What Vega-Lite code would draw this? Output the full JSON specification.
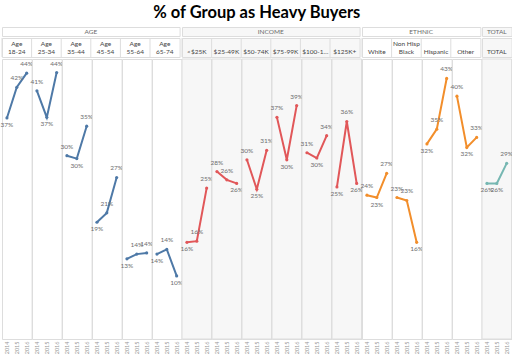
{
  "$schema": "https://vega.github.io/schema/vega-lite/v6.json",
  "autosize": {"type": "pad"},
  "padding": {"left": 0, "right": 0, "top": 5, "bottom": 0},
  "background": "white",
  "title": {"text": "% of Group as Heavy Buyers", "font": "Lato", "fontSize": 16.5, "fontWeight": "bold", "color": "#000000", "anchor": "middle", "offset": 5},
  "data": {"values": [
    {"group": "AGE", "sub": "Age 18-24", "year": 2014, "v": 0.367},
    {"group": "AGE", "sub": "Age 18-24", "year": 2015, "v": 0.419},
    {"group": "AGE", "sub": "Age 18-24", "year": 2016, "v": 0.443},
    {"group": "AGE", "sub": "Age 25-34", "year": 2014, "v": 0.413},
    {"group": "AGE", "sub": "Age 25-34", "year": 2015, "v": 0.368},
    {"group": "AGE", "sub": "Age 25-34", "year": 2016, "v": 0.444},
    {"group": "AGE", "sub": "Age 35-44", "year": 2014, "v": 0.303},
    {"group": "AGE", "sub": "Age 35-44", "year": 2015, "v": 0.298},
    {"group": "AGE", "sub": "Age 35-44", "year": 2016, "v": 0.353},
    {"group": "AGE", "sub": "Age 45-54", "year": 2014, "v": 0.190},
    {"group": "AGE", "sub": "Age 45-54", "year": 2015, "v": 0.206},
    {"group": "AGE", "sub": "Age 45-54", "year": 2016, "v": 0.266},
    {"group": "AGE", "sub": "Age 55-64", "year": 2014, "v": 0.128},
    {"group": "AGE", "sub": "Age 55-64", "year": 2015, "v": 0.136},
    {"group": "AGE", "sub": "Age 55-64", "year": 2016, "v": 0.138},
    {"group": "AGE", "sub": "Age 65-74", "year": 2014, "v": 0.136},
    {"group": "AGE", "sub": "Age 65-74", "year": 2015, "v": 0.144},
    {"group": "AGE", "sub": "Age 65-74", "year": 2016, "v": 0.099},
    {"group": "INCOME", "sub": "<$25K", "year": 2014, "v": 0.156},
    {"group": "INCOME", "sub": "<$25K", "year": 2015, "v": 0.158},
    {"group": "INCOME", "sub": "<$25K", "year": 2016, "v": 0.248},
    {"group": "INCOME", "sub": "$25-49K", "year": 2014, "v": 0.276},
    {"group": "INCOME", "sub": "$25-49K", "year": 2015, "v": 0.262},
    {"group": "INCOME", "sub": "$25-49K", "year": 2016, "v": 0.256},
    {"group": "INCOME", "sub": "$50-74K", "year": 2014, "v": 0.296},
    {"group": "INCOME", "sub": "$50-74K", "year": 2015, "v": 0.246},
    {"group": "INCOME", "sub": "$50-74K", "year": 2016, "v": 0.312},
    {"group": "INCOME", "sub": "$75-99K", "year": 2014, "v": 0.368},
    {"group": "INCOME", "sub": "$75-99K", "year": 2015, "v": 0.296},
    {"group": "INCOME", "sub": "$75-99K", "year": 2016, "v": 0.388},
    {"group": "INCOME", "sub": "$100-124K", "year": 2014, "v": 0.308},
    {"group": "INCOME", "sub": "$100-124K", "year": 2015, "v": 0.299},
    {"group": "INCOME", "sub": "$100-124K", "year": 2016, "v": 0.337},
    {"group": "INCOME", "sub": "$125K+", "year": 2014, "v": 0.250},
    {"group": "INCOME", "sub": "$125K+", "year": 2015, "v": 0.361},
    {"group": "INCOME", "sub": "$125K+", "year": 2016, "v": 0.256},
    {"group": "ETHNIC", "sub": "White", "year": 2014, "v": 0.236},
    {"group": "ETHNIC", "sub": "White", "year": 2015, "v": 0.232},
    {"group": "ETHNIC", "sub": "White", "year": 2016, "v": 0.273},
    {"group": "ETHNIC", "sub": "Non Hisp Black", "year": 2014, "v": 0.232},
    {"group": "ETHNIC", "sub": "Non Hisp Black", "year": 2015, "v": 0.227},
    {"group": "ETHNIC", "sub": "Non Hisp Black", "year": 2016, "v": 0.156},
    {"group": "ETHNIC", "sub": "Hispanic", "year": 2014, "v": 0.323},
    {"group": "ETHNIC", "sub": "Hispanic", "year": 2015, "v": 0.348},
    {"group": "ETHNIC", "sub": "Hispanic", "year": 2016, "v": 0.434},
    {"group": "ETHNIC", "sub": "Other", "year": 2014, "v": 0.404},
    {"group": "ETHNIC", "sub": "Other", "year": 2015, "v": 0.317},
    {"group": "ETHNIC", "sub": "Other", "year": 2016, "v": 0.334},
    {"group": "TOTAL", "sub": "TOTAL", "year": 2014, "v": 0.256},
    {"group": "TOTAL", "sub": "TOTAL", "year": 2015, "v": 0.256},
    {"group": "TOTAL", "sub": "TOTAL", "year": 2016, "v": 0.290}
  ]},
  "transform": [
    {"window": [{"op": "lag", "field": "v", "as": "prev"}, {"op": "lead", "field": "v", "as": "next"}], "groupby": ["sub"], "sort": [{"field": "year"}], "frame": [null, null]},
    {"calculate": "(datum.prev == null || datum.v <= datum.prev) && (datum.next == null || datum.v <= datum.next)", "as": "low"},
    {"calculate": "datum.sub == 'Non Hisp Black' ? 'Non Hisp|Black' : (indexof(datum.sub, 'Age ') == 0 ? 'Age|' + substring(datum.sub, 4) : ' |' + datum.sub)", "as": "lbl"}
  ],
  "spacing": 0,
  "vconcat": [
    {
      "spacing": 0,
      "hconcat": [
        {"transform": [{"filter": "datum.group == 'AGE' && datum.year == 2014"}, {"aggregate": [{"op": "count", "as": "n"}], "groupby": ["group"]}],
         "width": 177.6, "height": 9, "view": {"stroke": "#dddddd", "fill": "#ffffff"},
         "mark": {"type": "text", "fontSize": 6.5, "color": "#6a6a6a", "font": "Lato", "baseline": "middle"},
         "encoding": {"text": {"field": "group"}}},
        {"transform": [{"filter": "datum.group == 'INCOME' && datum.year == 2014"}, {"aggregate": [{"op": "count", "as": "n"}], "groupby": ["group"]}],
         "width": 177.6, "height": 9, "view": {"stroke": "#dddddd", "fill": "#f7f7f7"},
         "mark": {"type": "text", "fontSize": 6.5, "color": "#6a6a6a", "font": "Lato", "baseline": "middle"},
         "encoding": {"text": {"field": "group"}}},
        {"transform": [{"filter": "datum.group == 'ETHNIC' && datum.year == 2014"}, {"aggregate": [{"op": "count", "as": "n"}], "groupby": ["group"]}],
         "width": 118.4, "height": 9, "view": {"stroke": "#dddddd", "fill": "#ffffff"},
         "mark": {"type": "text", "fontSize": 6.5, "color": "#6a6a6a", "font": "Lato", "baseline": "middle"},
         "encoding": {"text": {"field": "group"}}},
        {"transform": [{"filter": "datum.group == 'TOTAL' && datum.year == 2014"}, {"aggregate": [{"op": "count", "as": "n"}], "groupby": ["group"]}],
         "width": 29.6, "height": 9, "view": {"stroke": "#dddddd", "fill": "#f7f7f7"},
         "mark": {"type": "text", "fontSize": 6.5, "color": "#6a6a6a", "font": "Lato", "baseline": "middle"},
         "encoding": {"text": {"field": "group"}}}
      ]
    },
    {
      "spacing": 0,
      "hconcat": [
        {"transform": [{"filter": "datum.group == 'AGE' && datum.year == 2014"}],
         "width": 177.6, "height": 19, "view": {"stroke": "#dddddd", "fill": "#ffffff"},
         "encoding": {"x": {"field": "sub", "type": "nominal", "sort": ["Age 18-24", "Age 25-34", "Age 35-44", "Age 45-54", "Age 55-64", "Age 65-74"], "scale": {"paddingInner": 0, "paddingOuter": 0}, "axis": null}},
         "layer": [
           {"mark": {"type": "rule", "color": "#dddddd", "strokeWidth": 1}, "encoding": {"x": {"field": "sub", "type": "nominal", "sort": ["Age 18-24", "Age 25-34", "Age 35-44", "Age 45-54", "Age 55-64", "Age 65-74"], "bandPosition": 0, "axis": null}}},
           {"mark": {"type": "text", "fontSize": 6.5, "color": "#444444", "font": "Lato", "baseline": "top", "dy": -6.5, "lineBreak": "|", "lineHeight": 7.5, "limit": 28}, "encoding": {"text": {"field": "lbl"}}}
         ]},
        {"transform": [{"filter": "datum.group == 'INCOME' && datum.year == 2014"}],
         "width": 177.6, "height": 19, "view": {"stroke": "#dddddd", "fill": "#f7f7f7"},
         "encoding": {"x": {"field": "sub", "type": "nominal", "sort": ["<$25K", "$25-49K", "$50-74K", "$75-99K", "$100-124K", "$125K+"], "scale": {"paddingInner": 0, "paddingOuter": 0}, "axis": null}},
         "layer": [
           {"mark": {"type": "rule", "color": "#dddddd", "strokeWidth": 1}, "encoding": {"x": {"field": "sub", "type": "nominal", "sort": ["<$25K", "$25-49K", "$50-74K", "$75-99K", "$100-124K", "$125K+"], "bandPosition": 0, "axis": null}}},
           {"mark": {"type": "text", "fontSize": 6.5, "color": "#444444", "font": "Lato", "baseline": "top", "dy": -6.5, "lineBreak": "|", "lineHeight": 7.5, "limit": 28}, "encoding": {"text": {"field": "lbl"}}}
         ]},
        {"transform": [{"filter": "datum.group == 'ETHNIC' && datum.year == 2014"}],
         "width": 118.4, "height": 19, "view": {"stroke": "#dddddd", "fill": "#ffffff"},
         "encoding": {"x": {"field": "sub", "type": "nominal", "sort": ["White", "Non Hisp Black", "Hispanic", "Other"], "scale": {"paddingInner": 0, "paddingOuter": 0}, "axis": null}},
         "layer": [
           {"mark": {"type": "rule", "color": "#dddddd", "strokeWidth": 1}, "encoding": {"x": {"field": "sub", "type": "nominal", "sort": ["White", "Non Hisp Black", "Hispanic", "Other"], "bandPosition": 0, "axis": null}}},
           {"mark": {"type": "text", "fontSize": 6.5, "color": "#444444", "font": "Lato", "baseline": "top", "dy": -6.5, "lineBreak": "|", "lineHeight": 7.5, "limit": 28}, "encoding": {"text": {"field": "lbl"}}}
         ]},
        {"transform": [{"filter": "datum.group == 'TOTAL' && datum.year == 2014"}],
         "width": 29.6, "height": 19, "view": {"stroke": "#dddddd", "fill": "#f7f7f7"},
         "encoding": {"x": {"field": "sub", "type": "nominal", "scale": {"paddingInner": 0, "paddingOuter": 0}, "axis": null}},
         "layer": [
           {"mark": {"type": "text", "fontSize": 6.5, "color": "#444444", "font": "Lato", "baseline": "top", "dy": -6.5, "lineBreak": "|", "lineHeight": 7.5, "limit": 28}, "encoding": {"text": {"field": "lbl"}}}
         ]}
      ]
    },
    {
      "facet": {"column": {"field": "sub", "type": "nominal", "sort": ["Age 18-24", "Age 25-34", "Age 35-44", "Age 45-54", "Age 55-64", "Age 65-74", "<$25K", "$25-49K", "$50-74K", "$75-99K", "$100-124K", "$125K+", "White", "Non Hisp Black", "Hispanic", "Other", "TOTAL"], "header": {"title": null, "labels": false, "labelPadding": 0, "titlePadding": 0}}},
      "spacing": 0,
      "bounds": "flush",
      "spec": {
        "width": 29.6, "height": 280,
        "view": {"stroke": "#dddddd", "fill": "#ffffff"},
        "layer": [
          {"transform": [{"filter": "datum.year == 2014 && (datum.group == 'INCOME' || datum.group == 'TOTAL')"}],
           "mark": {"type": "rect", "fill": "#f7f7f7", "stroke": "#dddddd", "strokeWidth": 1}},
          {"mark": {"type": "line", "strokeWidth": 2},
           "encoding": {
             "x": {"field": "year", "type": "ordinal", "axis": {"title": null, "labelAngle": -90, "labelFontSize": 5.5, "labelColor": "#999999", "ticks": false, "domain": false, "labelPadding": 2, "labelFont": "Lato"}},
             "y": {"field": "v", "type": "quantitative", "scale": {"domain": [-0.008, 0.467], "nice": false, "zero": false}, "axis": null},
             "color": {"field": "group", "type": "nominal", "scale": {"domain": ["AGE", "INCOME", "ETHNIC", "TOTAL"], "range": ["#4e79a7", "#e15759", "#f28e2b", "#76b7b2"]}, "legend": null}}},
          {"mark": {"type": "point", "filled": true, "size": 10, "opacity": 1},
           "encoding": {
             "x": {"field": "year", "type": "ordinal"},
             "y": {"field": "v", "type": "quantitative"},
             "color": {"field": "group", "type": "nominal", "legend": null}}},
          {"transform": [{"filter": "!datum.low"}],
           "mark": {"type": "text", "fontSize": 6.5, "dy": -6, "baseline": "bottom", "font": "Lato", "color": "#6e6e6e"},
           "encoding": {
             "x": {"field": "year", "type": "ordinal"},
             "y": {"field": "v", "type": "quantitative"},
             "text": {"field": "v", "format": ".0%"}}},
          {"transform": [{"filter": "datum.low"}],
           "mark": {"type": "text", "fontSize": 6.5, "dy": 4, "baseline": "top", "font": "Lato", "color": "#6e6e6e"},
           "encoding": {
             "x": {"field": "year", "type": "ordinal"},
             "y": {"field": "v", "type": "quantitative"},
             "text": {"field": "v", "format": ".0%"}}}
        ]
      }
    }
  ],
  "config": {
    "font": "Lato",
    "concat": {"spacing": 0},
    "facet": {"spacing": 0},
    "header": {"labelPadding": 0, "titlePadding": 0}
  }
}
